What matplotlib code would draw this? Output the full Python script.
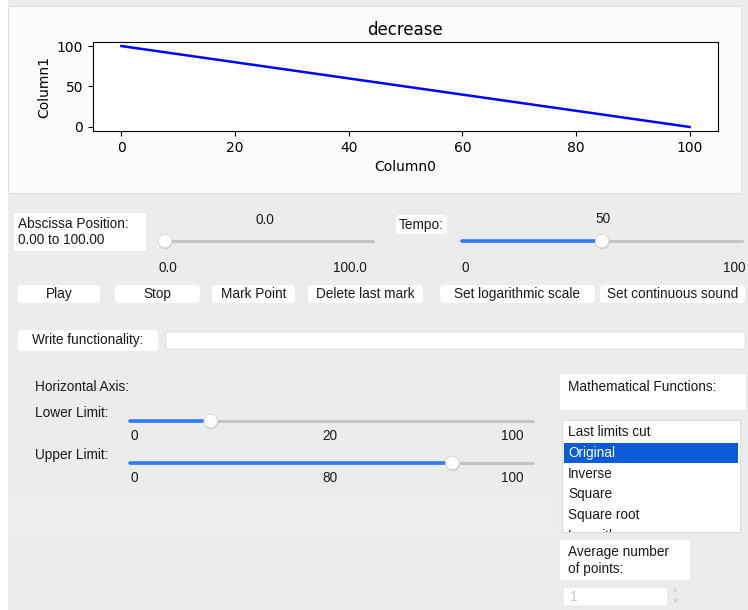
import matplotlib.pyplot as plt
from matplotlib.patches import FancyBboxPatch, Rectangle, Circle

# chart data
column0 = [0, 100]
column1 = [100, 0]

# widget state
abscissa_value = 0.0
tempo_value = 50
lower_limit = 20
upper_limit = 80
buttons = ["Play", "Stop", "Mark Point", "Delete last mark",
           "Set logarithmic scale", "Set continuous sound"]
functions = ["Last limits cut", "Original", "Inverse", "Square", "Square root", "Logarithm"]
selected_function = "Original"

BG = "#ececec"
BLUE = "#2f7cf6"
TRACK = "#c4c4c4"
W, H = 748, 610
FS = 9.8

fig = plt.figure(figsize=(W / 100, H / 100), dpi=100, facecolor=BG)
ui = fig.add_axes([0, 0, 1, 1])
ui.set_xlim(0, W)
ui.set_ylim(H, 0)
ui.axis("off")


def box(x0, y0, x1, y1, fc="white", ec="none", r=3, z=1):
    ui.add_patch(FancyBboxPatch((x0, y0), x1 - x0, y1 - y0,
                                boxstyle=f"round,pad=0,rounding_size={r}",
                                fc=fc, ec=ec, lw=0.6, zorder=z))


def label(x, y, s, ha="left", color="#1a1a1a", size=FS, z=3):
    return ui.text(x, y, s, ha=ha, va="center", fontsize=size, color=color,
                   family="Liberation Sans", zorder=z)


def slider(x0, x1, y, frac, filled=True):
    ui.plot([x0, x1], [y, y], color=TRACK, lw=2.2, solid_capstyle="round", zorder=2)
    xh = x0 + frac * (x1 - x0)
    if filled:
        ui.plot([x0, xh], [y, y], color=BLUE, lw=2.6, solid_capstyle="round", zorder=3)
    ui.add_patch(Circle((xh + 0.6, y + 1.2), 7, fc="#d0d0d0", ec="none", zorder=4))
    ui.add_patch(Circle((xh, y), 6.8, fc="white", ec="#cfcfcf", lw=0.5, zorder=5))


# white left strip and plot panel
ui.add_patch(Rectangle((0, 0), 8, H, fc="white", ec="none", zorder=0))
ui.add_patch(Rectangle((8, 6), 733, 187, fc="#fbfbfb", ec="#e2e2e2", lw=0.8, zorder=0))
ui.add_patch(Rectangle((8, 498), 548, 34, fc="#eeeeee", ec="none", zorder=0))

# abscissa position
box(14, 213, 146, 251)
label(18, 224, "Abscissa Position:")
label(18, 240, "0.00 to 100.00")
label(265, 220, f"{abscissa_value:.1f}", ha="center")
slider(165, 373, 241, abscissa_value / 100, filled=False)
label(168, 268, "0.0", ha="center")
label(350, 268, "100.0", ha="center")

# tempo
box(396, 215, 447, 234)
label(399, 225, "Tempo:")
label(603, 219, f"{tempo_value}", ha="center")
slider(462, 742, 241, tempo_value / 100)
label(465, 268, "0", ha="center")
label(734, 268, "100", ha="center")

# buttons
button_edges = [(18, 100), (115, 200), (212, 295), (308, 423), (440, 595), (600, 745)]
for name, (x0, x1) in zip(buttons, button_edges):
    box(x0, 285, x1, 303, r=4)
    label((x0 + x1) / 2, 294, name, ha="center")

# write functionality
box(18, 330, 158, 351)
label(32, 340, "Write functionality:")
box(166, 332, 745, 349, ec="#dadada", r=2)

# horizontal axis sliders
label(35, 387, "Horizontal Axis:")
label(35, 413, "Lower Limit:")
slider(130, 533, 421, lower_limit / 100)
label(134, 436, "0", ha="center")
label(330, 436, f"{lower_limit}", ha="center")
label(512, 436, "100", ha="center")
label(35, 455, "Upper Limit:")
slider(130, 533, 463, upper_limit / 100)
label(134, 478, "0", ha="center")
label(330, 478, f"{upper_limit}", ha="center")
label(512, 478, "100", ha="center")

# mathematical functions list
box(560, 374, 746, 410, r=2)
label(568, 387, "Mathematical Functions:")
list_rect = Rectangle((562, 420), 178, 112, fc="white", ec="#d6d6d6", lw=0.6, zorder=1)
ui.add_patch(list_rect)
for i, name in enumerate(functions):
    y = 432 + i * 20.8
    if name == selected_function:
        ui.add_patch(Rectangle((564, y - 10), 174, 20, fc="#0b5bd7", ec="none", zorder=2))
        label(568, y, name, color="white")
    else:
        t = label(568, y, name)
        t.set_clip_path(list_rect)
        t.set_clip_on(True)

# average number of points
box(560, 540, 690, 580, r=2)
label(568, 552, "Average number")
label(568, 569, "of points:")
box(563, 587, 668, 606, ec="#e0e0e0", r=2)
label(570, 597, "1", color="#c8c8c8")
label(675, 591, "\u02c4", ha="center", color="#b0b0b0", size=6)
label(675, 601, "\u02c5", ha="center", color="#b0b0b0", size=6)

# the chart itself
ax = fig.add_axes([93 / W, 1 - 131 / H, (718 - 93) / W, (131 - 42) / H])
ax.set_facecolor("white")
ax.plot(column0, column1, color="blue", lw=1.8)
ax.set_title("decrease", fontsize=12, pad=5)
ax.set_xlabel("Column0", fontsize=10)
ax.set_ylabel("Column1", fontsize=10)
ax.tick_params(labelsize=10)
ax.set_xticks([0, 20, 40, 60, 80, 100])
ax.set_yticks([0, 50, 100])

fig.savefig("out.png", dpi=100, facecolor=BG)
